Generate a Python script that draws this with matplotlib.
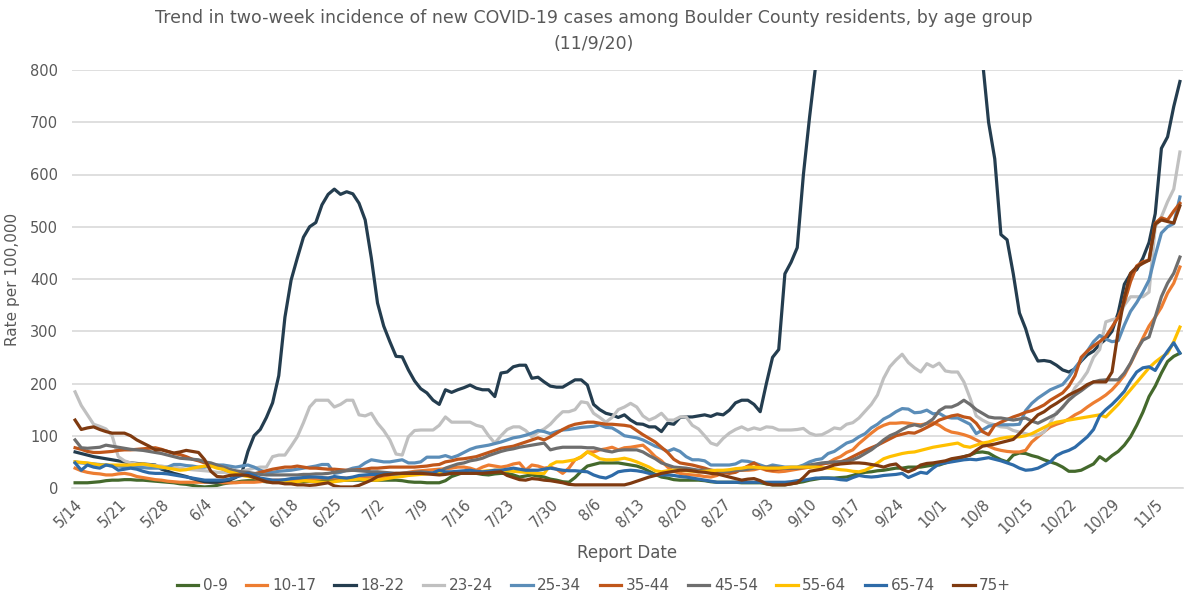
import matplotlib
matplotlib.use("Agg")
import matplotlib.pyplot as plt
import numpy as np
import datetime as dt

# ---------------- data (rate per 100,000), daily 5/14 .. 11/9 ----------------
start_date = dt.date(2020, 5, 14)
n_days = 180
dates = [start_date + dt.timedelta(days=i) for i in range(n_days)]
tick_labels = [f"{d.month}/{d.day}" for d in dates]

age_groups = ["0-9", "10-17", "18-22", "23-24", "25-34", "35-44", "45-54", "55-64", "65-74", "75+"]

age_0_9 = [
    10, 10, 10, 11, 12, 14, 15,
    15, 16, 16, 15, 15, 14, 13,
    12, 11, 10, 8, 7, 5, 3,
    2, 3, 5, 8, 10, 11, 13,
    14, 14, 13, 12, 12, 12, 12,
    12, 12, 12, 13, 13, 14, 14,
    14, 14, 15, 15, 15, 15, 15,
    15, 15, 15, 15, 14, 12, 11,
    11, 10, 10, 10, 14, 22, 26,
    30, 30, 28, 26, 25, 27, 28,
    28, 25, 21, 23, 25, 23, 21,
    17, 15, 12, 11, 20, 32, 42,
    45, 48, 48, 48, 48, 46, 44,
    42, 38, 32, 26, 21, 19, 16,
    15, 15, 15, 15, 14, 12, 11,
    11, 11, 11, 10, 10, 10, 10,
    8, 6, 6, 6, 8, 10, 12,
    15, 17, 19, 19, 19, 20, 21,
    24, 28, 30, 31, 33, 34, 36,
    38, 38, 40, 40, 40, 42, 44,
    44, 48, 52, 56, 60, 63, 68,
    69, 67, 60, 54, 50, 63, 67,
    66, 62, 59, 54, 50, 46, 40,
    32, 32, 34, 40, 46, 60, 52,
    62, 70, 82, 98, 120, 145, 175,
    195, 220, 242, 252, 258,
]

age_10_17 = [
    38, 33, 30, 28, 27, 25, 25,
    27, 28, 26, 22, 20, 18, 16,
    15, 13, 12, 11, 11, 11, 11,
    11, 11, 11, 10, 10, 10, 11,
    11, 11, 12, 14, 15, 15, 15,
    15, 15, 16, 17, 18, 19, 19,
    19, 19, 19, 20, 20, 21, 21,
    22, 22, 24, 26, 28, 30, 32,
    33, 34, 35, 36, 37, 38, 40,
    40, 38, 34, 40, 44, 42, 40,
    42, 46, 48, 34, 44, 42, 38,
    40, 36, 28, 38, 54, 59, 69,
    69, 73, 75, 78, 73, 77, 78,
    80, 82, 72, 60, 52, 40, 32,
    28, 26, 25, 24, 22, 21, 24,
    30, 34, 34, 34, 34, 35, 38,
    34, 32, 31, 32, 34, 36, 38,
    40, 42, 46, 48, 55, 60, 68,
    73, 85, 95, 105, 114, 120, 124,
    124, 125, 124, 122, 121, 123, 125,
    120, 112, 107, 105, 102, 98, 92,
    86, 80, 75, 72, 70, 69, 69,
    72, 88, 98, 108, 117, 122, 126,
    132, 140, 146, 155, 163, 170, 178,
    188, 201, 216, 238, 262, 287, 310,
    327, 346, 373, 392, 423,
]

age_18_22 = [
    69, 66, 63, 60, 58, 56, 54,
    52, 50, 48, 47, 46, 45, 44,
    36, 32, 28, 25, 22, 18, 15,
    12, 11, 11, 13, 15, 20, 28,
    70, 100, 112, 135, 163, 215, 327,
    398, 440, 480, 500, 508, 542, 562,
    572, 562, 567, 563, 545, 513, 440,
    354, 310, 280, 252, 251, 226, 205,
    190, 182, 168, 160, 188, 183, 188,
    192, 197, 191, 188, 188, 175, 220,
    222, 232, 235, 235, 210, 212, 203,
    195, 193, 193, 200, 207, 207, 197,
    160, 150, 143, 140, 135, 140, 130,
    123, 122, 117, 117, 108, 124, 122,
    135, 136, 136, 138, 140, 137, 142,
    140, 149, 163, 168, 168, 160, 146,
    200, 250, 265, 410, 432, 460, 600,
    710, 810, 880, 950, 1000, 1050, 1100,
    1150, 1200, 1250, 1300, 1350, 1400, 1420,
    1450, 1480, 1500, 1500, 1480, 1450, 1420,
    1380, 1320, 1250, 1180, 1100, 1000, 900,
    820, 700, 630, 485, 475, 410, 335,
    305, 265, 243, 244, 242, 235, 226,
    222, 228, 243, 255, 262, 275, 285,
    300, 335, 390, 410, 418, 440, 470,
    525, 650, 672, 730, 778,
]

age_23_24 = [
    184, 158, 140, 122, 118, 113, 100,
    60, 52, 48, 46, 45, 44, 43,
    42, 40, 40, 38, 36, 35, 34,
    33, 32, 30, 30, 30, 31, 32,
    35, 38, 40, 40, 60, 63, 63,
    80, 98, 125, 155, 168, 168, 168,
    155, 160, 168, 168, 140, 138, 143,
    124, 110, 92, 65, 63, 98, 110,
    111, 111, 111, 120, 136, 126, 126,
    126, 126, 120, 117, 100, 86, 100,
    112, 117, 117, 110, 98, 107, 113,
    122, 135, 146, 146, 150, 165, 163,
    143, 135, 126, 135, 150, 155, 162,
    155, 138, 130, 135, 143, 130, 130,
    136, 136, 120, 113, 100, 86, 82,
    95, 105, 112, 117, 111, 115, 112,
    117, 116, 111, 111, 111, 112, 114,
    105, 101, 102, 108, 115, 113, 122,
    125, 134, 147, 160, 178, 210, 232,
    245, 256, 240, 230, 222, 238, 232,
    239, 224, 222, 222, 203, 172, 138,
    130, 124, 121, 117, 116, 110, 107,
    104, 101, 102, 107, 125, 145, 153,
    170, 192, 205, 222, 250, 265, 318,
    322, 325, 350, 366, 366, 366, 375,
    500, 519, 548, 572, 643,
]

age_25_34 = [
    50, 48, 47, 46, 45, 44, 42,
    42, 41, 40, 40, 39, 38, 38,
    38, 40, 45, 45, 43, 42, 40,
    40, 42, 44, 44, 42, 40, 42,
    44, 40, 34, 30, 30, 32, 33,
    34, 36, 38, 40, 42, 45, 45,
    28, 30, 34, 38, 40, 48, 54,
    52, 50, 50, 52, 54, 48, 48,
    50, 59, 59, 59, 62, 58, 62,
    68, 74, 78, 80, 82, 85, 88,
    92, 96, 98, 101, 105, 110, 108,
    104, 108, 111, 112, 114, 116, 117,
    118, 121, 116, 115, 108, 100, 98,
    96, 92, 86, 80, 76, 70, 75,
    70, 60, 54, 54, 52, 44, 44,
    44, 44, 46, 52, 51, 48, 44,
    40, 44, 42, 40, 40, 40, 44,
    50, 54, 56, 66, 70, 78, 86,
    90, 98, 104, 115, 122, 132, 138,
    146, 152, 151, 144, 145, 149, 142,
    143, 136, 134, 134, 128, 122, 104,
    111, 118, 121, 121, 121, 121, 122,
    148, 162, 172, 180, 188, 193, 198,
    212, 230, 245, 262, 280, 292, 285,
    280, 282, 312, 338, 355, 375, 398,
    445, 488, 500, 506, 557,
]

age_35_44 = [
    77, 74, 70, 68, 68, 69, 70,
    72, 73, 73, 74, 75, 76, 77,
    74, 70, 66, 64, 60, 55, 52,
    48, 44, 40, 36, 32, 30, 28,
    28, 27, 30, 33, 36, 38, 40,
    40, 42, 40, 38, 38, 37, 36,
    36, 35, 34, 34, 35, 36, 38,
    38, 39, 40, 40, 40, 40, 40,
    41, 42, 44, 45, 50, 52, 55,
    56, 58, 60, 64, 68, 72, 76,
    78, 80, 84, 88, 92, 96, 92,
    98, 105, 112, 118, 122, 124, 126,
    126, 124, 122, 122, 121, 120, 118,
    110, 102, 95, 88, 78, 68, 55,
    48, 46, 44, 41, 38, 34, 32,
    30, 28, 30, 36, 42, 48, 40,
    35, 34, 36, 38, 38, 38, 39,
    40, 44, 46, 48, 48, 50, 54,
    60, 66, 72, 77, 82, 88, 94,
    100, 103, 106, 105, 110, 116, 122,
    130, 134, 138, 140, 136, 134, 124,
    108, 102, 120, 126, 131, 136, 140,
    145, 148, 153, 159, 168, 175, 182,
    195, 215, 250, 262, 272, 280, 290,
    308, 327, 355, 395, 425, 433, 436,
    507, 517, 513, 530, 545,
]

age_45_54 = [
    92, 77, 76, 77, 78, 82, 80,
    78, 76, 74, 73, 72, 70, 68,
    66, 63, 60, 57, 56, 55, 54,
    50, 48, 44, 40, 36, 33, 31,
    30, 28, 26, 25, 25, 25, 25,
    25, 25, 26, 26, 27, 27, 28,
    30, 32, 33, 34, 33, 32, 31,
    31, 30, 29, 28, 28, 29, 30,
    31, 30, 28, 30, 38, 42, 46,
    48, 52, 54, 57, 62, 66, 70,
    73, 75, 78, 80, 82, 84, 86,
    73, 76, 78, 78, 78, 78, 77,
    77, 74, 71, 69, 72, 73, 73,
    73, 69, 62, 56, 48, 44, 40,
    39, 38, 36, 34, 34, 34, 33,
    31, 32, 34, 34, 36, 38, 39,
    40, 40, 39, 38, 38, 38, 40,
    44, 46, 48, 49, 50, 50, 51,
    54, 59, 66, 73, 82, 92, 100,
    105, 112, 118, 121, 118, 124, 132,
    148, 155, 155, 160, 168, 160, 150,
    143, 136, 134, 134, 132, 130, 132,
    134, 128, 124, 130, 136, 142, 155,
    168, 178, 186, 195, 203, 206, 207,
    207, 207, 220, 239, 264, 283, 289,
    327, 366, 392, 411, 442,
]

age_55_64 = [
    50, 49, 48, 46, 44, 44, 44,
    44, 44, 44, 45, 46, 44, 42,
    40, 38, 36, 34, 35, 38, 40,
    42, 42, 38, 36, 31, 28, 24,
    22, 20, 17, 15, 14, 13, 12,
    11, 12, 14, 13, 12, 11, 11,
    12, 14, 15, 16, 17, 16, 15,
    15, 17, 19, 21, 22, 24, 25,
    26, 27, 28, 28, 28, 28, 29,
    30, 31, 31, 32, 33, 34, 34,
    33, 32, 31, 30, 29, 28, 28,
    44, 50, 50, 52, 54, 60, 69,
    63, 56, 54, 54, 55, 57, 54,
    50, 45, 40, 33, 31, 33, 34,
    34, 33, 32, 31, 32, 33, 34,
    34, 35, 37, 38, 40, 40, 39,
    38, 38, 38, 39, 40, 40, 40,
    40, 40, 39, 38, 37, 35, 34,
    32, 31, 34, 40, 48, 56, 60,
    63, 66, 68, 69, 72, 75, 78,
    80, 82, 84, 86, 80, 78, 82,
    86, 88, 92, 95, 97, 98, 98,
    100, 104, 110, 116, 122, 126, 128,
    130, 132, 134, 136, 138, 140, 136,
    148, 160, 174, 188, 202, 216, 230,
    241, 250, 258, 280, 308,
]

age_65_74 = [
    48, 34, 44, 40, 38, 44, 42,
    34, 36, 38, 36, 32, 29, 28,
    28, 27, 25, 23, 21, 19, 17,
    15, 15, 15, 15, 17, 21, 24,
    28, 24, 19, 17, 15, 15, 16,
    18, 19, 20, 21, 21, 20, 19,
    22, 20, 19, 21, 24, 25, 26,
    26, 27, 27, 27, 28, 28, 28,
    28, 28, 29, 34, 31, 31, 32,
    33, 34, 32, 31, 32, 34, 34,
    36, 38, 36, 34, 34, 34, 36,
    38, 36, 34, 33, 33, 32, 31,
    25, 21, 19, 24, 31, 33, 34,
    33, 31, 28, 25, 25, 25, 24,
    22, 21, 19, 17, 15, 13, 11,
    11, 11, 11, 11, 11, 11, 11,
    11, 11, 11, 11, 12, 14, 15,
    17, 19, 19, 19, 18, 16, 15,
    20, 24, 22, 21, 22, 24, 25,
    26, 28, 20, 25, 30, 28, 38,
    46, 48, 50, 52, 54, 55, 54,
    56, 58, 55, 52, 48, 44, 38,
    34, 35, 38, 44, 50, 62, 68,
    72, 78, 88, 98, 112, 138, 150,
    160, 172, 185, 205, 222, 230, 232,
    225, 245, 262, 278, 258,
]

age_75_plus = [
    130, 112, 115, 117, 112, 108, 105,
    105, 105, 100, 92, 86, 80, 73,
    73, 70, 67, 69, 72, 70, 68,
    54, 32, 22, 21, 24, 25, 25,
    24, 20, 16, 12, 10, 10, 8,
    8, 6, 6, 5, 6, 8, 10,
    4, 2, 2, 2, 5, 10, 15,
    22, 25, 26, 28, 28, 28, 28,
    28, 27, 26, 25, 26, 28, 28,
    28, 28, 28, 28, 29, 30, 31,
    24, 20, 16, 15, 18, 17, 15,
    14, 12, 10, 7, 6, 6, 6,
    6, 6, 6, 6, 6, 6, 9,
    13, 17, 21, 24, 28, 30, 32,
    34, 34, 33, 31, 30, 28, 27,
    24, 21, 18, 15, 17, 18, 14,
    8, 6, 6, 6, 8, 10, 20,
    32, 34, 36, 40, 44, 46, 47,
    48, 48, 47, 45, 43, 40, 44,
    46, 36, 31, 36, 44, 47, 48,
    50, 52, 56, 58, 60, 63, 72,
    80, 82, 84, 87, 90, 93, 104,
    117, 128, 140, 146, 155, 162, 170,
    178, 184, 190, 198, 203, 203, 203,
    222, 300, 365, 411, 423, 430, 436,
    505, 513, 510, 507, 540,
]

series = [age_0_9, age_10_17, age_18_22, age_23_24, age_25_34,
          age_35_44, age_45_54, age_55_64, age_65_74, age_75_plus]
colors = ["#44692C", "#ED7D31", "#243D4F", "#C0C0C0", "#5B8DB8",
          "#C0561A", "#6E6E6E", "#FFC000", "#2E6BA8", "#7F3A10"]

# ---------------- figure ----------------
fig = plt.figure(figsize=(11.88, 6.04), dpi=100)
ax = fig.add_axes([72 / 1188, 1 - 488 / 604, (1183 - 72) / 1188, (488 - 70) / 604])

x = np.arange(n_days)
for vals, col, lab in zip(series, colors, age_groups):
    ax.plot(x, vals, color=col, lw=2.3, label=lab, solid_joinstyle="round", clip_on=True)

ax.set_ylim(0, 800)
ax.set_xlim(-0.5, n_days - 0.5)
ax.set_yticks(range(0, 801, 100))
ax.yaxis.grid(True, color="#D9D9D9", lw=1.2)
ax.set_axisbelow(True)
for s in ["top", "right", "left"]:
    ax.spines[s].set_visible(False)
ax.spines["bottom"].set_color("#D9D9D9")
ax.spines["bottom"].set_linewidth(1.2)

tick_pos = list(range(0, n_days, 7))
ax.set_xticks(tick_pos)
ax.set_xticklabels([tick_labels[i] for i in tick_pos], rotation=45, ha="right",
                   rotation_mode="anchor", fontsize=10.5, color="#595959")
ax.tick_params(axis="x", length=0, pad=6)
ax.tick_params(axis="y", length=0, labelsize=10.5, labelcolor="#595959", pad=10)

ax.set_xlabel("Report Date", fontsize=12, color="#595959", labelpad=5)
ax.set_ylabel("Rate per 100,000", fontsize=11, color="#595959", labelpad=7)

fig.text(0.5, 1 - 18 / 604,
         "Trend in two-week incidence of new COVID-19 cases among Boulder County residents, by age group",
         ha="center", va="center", fontsize=12.5, color="#595959")
fig.text(0.5, 1 - 44 / 604, "(11/9/20)", ha="center", va="center", fontsize=12.5, color="#595959")

leg = fig.legend(*ax.get_legend_handles_labels(), loc="center", ncol=10,
                 bbox_to_anchor=(0.5, 1 - 586 / 604), frameon=False,
                 fontsize=11, handlelength=1.4, handletextpad=0.3, columnspacing=1.2)
for t in leg.get_texts():
    t.set_color("#595959")

fig.savefig("out.png", dpi=100)
